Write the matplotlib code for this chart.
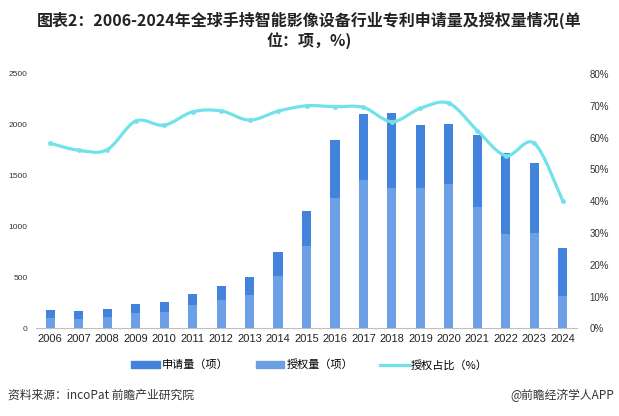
import matplotlib
matplotlib.use('Agg')
import matplotlib.pyplot as plt
import numpy as np
from matplotlib.path import Path
from matplotlib.patches import PathPatch, Patch
from matplotlib.lines import Line2D

plt.rcParams['font.family'] = ['Noto Sans CJK SC', 'DejaVu Sans']

years = ['2006', '2007', '2008', '2009', '2010', '2011', '2012', '2013', '2014', '2015',
         '2016', '2017', '2018', '2019', '2020', '2021', '2022', '2023', '2024']
apply_cnt = [180, 170, 193, 242, 259, 337, 416, 505, 750, 1153,
             1851, 2107, 2117, 1999, 2009, 1900, 1720, 1628, 786]
grant_cnt = [105, 95, 115, 154, 160, 229, 282, 328, 514, 809,
             1284, 1458, 1383, 1383, 1419, 1196, 930, 940, 321]
grant_pct = [58.2, 56.0, 56.2, 65.2, 63.9, 68.1, 68.4, 65.5, 68.3, 70.0,
             69.7, 69.5, 65.0, 69.2, 70.8, 62.2, 54.3, 58.2, 40.1]

c_apply = '#4383dc'
c_grant = '#6ba0e6'
c_line = '#72e2ea'

fig = plt.figure(figsize=(6.19, 4.16), dpi=100)
ax = fig.add_axes([36 / 619, 1 - 328.3 / 416, 541 / 619, 254.3 / 416])
x = np.arange(len(years))

ax.bar(x, apply_cnt, width=0.32, color=c_apply, zorder=2)
ax.bar(x, grant_cnt, width=0.32, color=c_grant, zorder=3)
ax.set_xlim(-0.5, len(years) - 0.5)
ax.set_ylim(0, 2500)
ax.set_yticks([0, 500, 1000, 1500, 2000, 2500])
ax.set_xticks(x)
ax.set_xticklabels(years, fontsize=8, family='Liberation Sans', color='#222222')
for lab in ax.get_yticklabels():
    lab.set_fontsize(6)
    lab.set_family('Liberation Sans')
    lab.set_color('#333333')
for s in ['top', 'right', 'left']:
    ax.spines[s].set_visible(False)
ax.spines['bottom'].set_color('#bfbfbf')
ax.tick_params(length=0)
ax.tick_params(axis='y', pad=6)
ax.tick_params(axis='x', pad=4)

ax2 = ax.twinx()
ax2.set_ylim(0, 80)
ax2.set_yticks(range(0, 81, 10))
ax2.set_yticklabels([f'{v}%' for v in range(0, 81, 10)], fontsize=7,
                    family='Liberation Sans', color='#333333')
ax2.tick_params(length=0, pad=9)
for s in ['top', 'right', 'left', 'bottom']:
    ax2.spines[s].set_visible(False)

# smooth curve through the points (catmull-rom as bezier segments)
px = list(x.astype(float))
py = list(grant_pct)
verts = [(px[0], py[0])]
codes = [Path.MOVETO]
n = len(px)
for i in range(n - 1):
    i0 = max(i - 1, 0)
    i3 = min(i + 2, n - 1)
    c1 = (px[i] + (px[i + 1] - px[i0]) / 6, py[i] + (py[i + 1] - py[i0]) / 6)
    c2 = (px[i + 1] - (px[i3] - px[i]) / 6, py[i + 1] - (py[i3] - py[i]) / 6)
    verts += [c1, c2, (px[i + 1], py[i + 1])]
    codes += [Path.CURVE4] * 3
ax2.add_patch(PathPatch(Path(verts, codes), fill=False, edgecolor=c_line, lw=2.3, zorder=4))
ax2.plot(x, grant_pct, 'o', color=c_line, markersize=2.5, zorder=5)

handles = [Patch(color=c_apply), Patch(color=c_grant),
           Line2D([0], [0], color=c_line, lw=2.3)]
fig.legend(handles, ['申请量（项）', '授权量（项）', '授权占比（%）'],
           loc='center', bbox_to_anchor=(0.5, 1 - 365 / 416), ncol=3, frameon=False,
           fontsize=8, handlelength=2.6, handleheight=0.5, columnspacing=2.4,
           handletextpad=0.2)

fig.text(0.5, 1 - 20 / 416, '图表2：2006-2024年全球手持智能影像设备行业专利申请量及授权量情况(单',
         ha='center', va='center', fontsize=11.5, fontweight='bold', color='#222222')
fig.text(0.5, 1 - 41 / 416, '位：项，%)', ha='center', va='center', fontsize=11.5,
         fontweight='bold', color='#222222')

fig.text(8 / 619, 1 - 395 / 416, '资料来源：incoPat 前瞻产业研究院', ha='left', va='center',
         fontsize=8.5, color='#333333')
fig.text(614 / 619, 1 - 395 / 416, '@前瞻经济学人APP', ha='right', va='center',
         fontsize=8.5, color='#333333')

fig.savefig('out.png', dpi=100)
